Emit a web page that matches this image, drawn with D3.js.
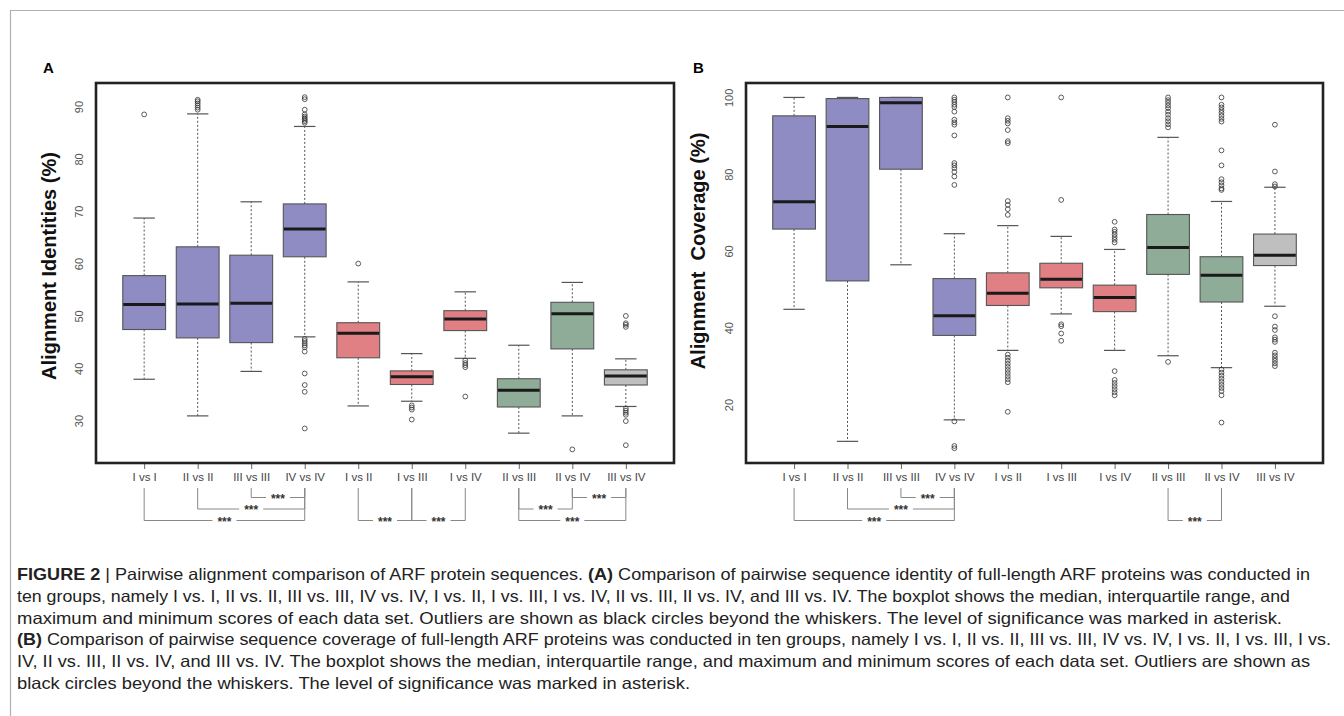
<!DOCTYPE html>
<html>
<head>
<meta charset="utf-8">
<script src="https://cdn.jsdelivr.net/npm/d3@7"></script>
<style>
  body { margin: 0; background: #fff; }
  svg { display: block; }
</style>
</head>
<body>
<div id="chart"></div>
<script>
const categories = ['I vs I', 'II vs II', 'III vs III', 'IV vs IV', 'I vs II', 'I vs III', 'I vs IV', 'II vs III', 'II vs IV', 'III vs IV'];
const boxColors = ['#8f8bc3', '#8f8bc3', '#8f8bc3', '#8f8bc3', '#e08084', '#e08084', '#e08084', '#8fac98', '#8fac98', '#bfbfbf'];

// panel A: alignment identities (%)
const identTicks = [30, 40, 50, 60, 70, 80, 90];
const identLow = [37.9, 30.9, 39.4, 46.0, 32.8, 33.7, 41.9, 27.6, 30.9, 32.7];
const identQ1 = [47.4, 45.8, 44.9, 61.3, 42.0, 36.9, 47.2, 32.6, 43.7, 36.8];
const identMedian = [52.2, 52.3, 52.4, 66.6, 46.7, 38.4, 49.4, 35.8, 50.4, 38.5];
const identQ3 = [57.7, 63.2, 61.6, 71.4, 48.7, 39.5, 51.0, 38.0, 52.6, 39.7];
const identHigh = [68.7, 88.6, 71.8, 86.2, 56.5, 42.8, 54.6, 44.4, 56.4, 41.8];
const identOutliers = [
  [88.5],
  [89.4, 89.8, 90.2, 90.6, 91.0, 91.3],
  [],
  [86.9, 87.2, 87.5, 87.8, 88.1, 88.5, 89.4, 91.4, 91.8, 45.6, 45.2, 44.8, 44.4, 44.0, 43.2, 39.0, 36.8, 35.5, 28.5],
  [60.0],
  [32.9, 32.5, 32.1, 30.2],
  [41.5, 41.0, 40.6, 40.2, 34.6],
  [],
  [24.5],
  [50.0, 48.6, 48.3, 47.9, 32.3, 31.9, 31.5, 31.1, 29.9, 25.3]
];
// [from, to, tier]
const identBrackets = [[2, 3, 0], [1, 3, 1], [0, 3, 2], [4, 5, 2], [5, 6, 2], [7, 8, 1], [8, 9, 0], [7, 9, 2]];

// panel B: alignment coverage (%)
const coverTicks = [20, 40, 60, 80, 100];
const coverLow = [44.8, 10.4, 56.4, 16.0, 34.1, 43.6, 34.1, 32.7, 29.6, 45.6];
const coverQ1 = [65.7, 52.2, 81.3, 38.0, 45.8, 50.4, 44.2, 53.9, 46.7, 56.2];
const coverMedian = [72.8, 92.4, 98.6, 43.1, 49.0, 52.6, 47.9, 60.9, 53.7, 58.9];
const coverQ3 = [95.2, 99.7, 100, 52.8, 54.3, 56.8, 51.1, 69.5, 58.5, 64.4];
const coverHigh = [100, 100, 100, 64.5, 66.6, 63.8, 60.4, 89.6, 72.9, 76.6];
const coverOutliers = [
  [],
  [],
  [],
  [100, 99.4, 98.8, 98.1, 97.5, 96.3, 94.2, 93.5, 92.9, 90.1, 82.9, 82.3, 81.6, 80.6, 79.4, 77.2, 15.6, 9.2, 8.6],
  [100, 94.6, 93.9, 93.2, 91.5, 88.6, 88.1, 73.0, 72.0, 70.9, 69.4, 33.0, 32.2, 31.4, 30.6, 29.8, 29.0, 28.2, 27.4, 26.6, 25.8, 18.1],
  [100, 73.3, 40.9, 40.4, 38.5, 36.6],
  [67.6, 65.6, 65.0, 64.3, 63.6, 62.9, 62.2, 28.7, 26.4, 25.6, 24.8, 24.0, 23.2, 22.4],
  [100, 99.3, 98.6, 97.9, 97.2, 96.3, 95.5, 94.6, 93.8, 93.0, 92.2, 31.1],
  [100, 98.1, 97.4, 96.7, 96.0, 95.2, 94.4, 93.7, 86.2, 82.3, 78.7, 77.9, 77.1, 76.3, 75.9, 29.1, 28.3, 27.5, 26.7, 25.9, 25.1, 24.3, 23.5, 22.4, 15.3],
  [92.9, 80.7, 77.4, 76.8, 43.0, 40.3, 39.4, 37.5, 36.9, 36.3, 33.5, 32.8, 32.1, 31.4, 30.7, 30.0]
];
const coverBrackets = [[2, 3, 0], [1, 3, 1], [0, 3, 2], [7, 8, 2]];

const captionLines = [
  [['FIGURE 2', true], [' | Pairwise alignment comparison of ARF protein sequences. ', false], ['(A)', true], [' Comparison of pairwise sequence identity of full-length ARF proteins was conducted in', false]],
  [['ten groups, namely I vs. I, II vs. II, III vs. III, IV vs. IV, I vs. II, I vs. III, I vs. IV, II vs. III, II vs. IV, and III vs. IV. The boxplot shows the median, interquartile range, and', false]],
  [['maximum and minimum scores of each data set. Outliers are shown as black circles beyond the whiskers. The level of significance was marked in asterisk.', false]],
  [['(B)', true], [' Comparison of pairwise sequence coverage of full-length ARF proteins was conducted in ten groups, namely I vs. I, II vs. II, III vs. III, IV vs. IV, I vs. II, I vs. III, I vs.', false]],
  [['IV, II vs. III, II vs. IV, and III vs. IV. The boxplot shows the median, interquartile range, and maximum and minimum scores of each data set. Outliers are shown as', false]],
  [['black circles beyond the whiskers. The level of significance was marked in asterisk.', false]]
];
// right end of each caption line in the picture
const captionEnds = [1310, 1290, 1282, 1331, 1310, 690];

const W = 1344, H = 716;
const svg = d3.select('#chart').append('svg').attr('width', W).attr('height', H)
  .style('font-family', 'Liberation Sans, Arial, sans-serif');

// page frame
svg.append('path').attr('d', `M10.5,${H} V10.5 H${W}`).attr('fill', 'none').attr('stroke', '#b0b0b0').attr('stroke-width', 1.2);

function drawPanel(p) {
  const g = svg.append('g');
  const x = d3.scalePoint().domain(categories).range([p.left, p.right]).padding(0.9);
  const y = d3.scaleLinear().domain(p.domain).range([p.bottom, p.top]);
  const bw = x.step() * 0.8;

  // y axis labels (rotated, no tick marks)
  const ya = g.append('g').attr('transform', `translate(${p.left},0)`)
    .call(d3.axisLeft(y).tickValues(p.ticks).tickSize(0));
  ya.select('.domain').remove();
  ya.selectAll('text').attr('x', 0).attr('dy', null)
    .attr('transform', 'translate(-16,0) rotate(-90)')
    .attr('text-anchor', 'middle').attr('dominant-baseline', 'middle')
    .style('font-size', '11px').style('fill', '#555').style('font-family', 'Liberation Sans, Arial, sans-serif');

  // x axis
  const xa = g.append('g').attr('transform', `translate(0,${p.bottom})`)
    .call(d3.axisBottom(x).tickSize(6).tickPadding(4));
  xa.select('.domain').remove();
  xa.selectAll('line').attr('stroke', '#666');
  xa.selectAll('text').style('font-size', '11.5px').style('fill', '#444')
    .style('font-family', 'Liberation Sans, Arial, sans-serif');

  const idx = d3.range(categories.length);

  // whiskers
  g.selectAll('.wh-up').data(idx).enter().append('line')
    .attr('x1', i => x(categories[i])).attr('x2', i => x(categories[i]))
    .attr('y1', i => y(p.q3[i])).attr('y2', i => y(p.high[i]))
    .attr('stroke', '#555').attr('stroke-dasharray', '2,2');
  g.selectAll('.wh-dn').data(idx).enter().append('line')
    .attr('x1', i => x(categories[i])).attr('x2', i => x(categories[i]))
    .attr('y1', i => y(p.q1[i])).attr('y2', i => y(p.low[i]))
    .attr('stroke', '#555').attr('stroke-dasharray', '2,2');
  [p.high, p.low].forEach(vals => {
    g.selectAll(null).data(idx).enter().append('line')
      .attr('x1', i => x(categories[i]) - bw / 4).attr('x2', i => x(categories[i]) + bw / 4)
      .attr('y1', i => y(vals[i])).attr('y2', i => y(vals[i]))
      .attr('stroke', '#555').attr('stroke-width', 1.2);
  });

  // boxes
  g.selectAll('.box').data(idx).enter().append('rect')
    .attr('x', i => x(categories[i]) - bw / 2).attr('width', bw)
    .attr('y', i => y(p.q3[i])).attr('height', i => y(p.q1[i]) - y(p.q3[i]))
    .attr('fill', i => boxColors[i]).attr('stroke', '#555').attr('stroke-width', 1.1);
  g.selectAll('.med').data(idx).enter().append('line')
    .attr('x1', i => x(categories[i]) - bw / 2 + 0.5).attr('x2', i => x(categories[i]) + bw / 2 - 0.5)
    .attr('y1', i => y(p.median[i])).attr('y2', i => y(p.median[i]))
    .attr('stroke', '#1a1a1a').attr('stroke-width', 3);

  // outliers
  const pts = [];
  p.outliers.forEach((arr, i) => arr.forEach(v => pts.push([i, v])));
  g.selectAll('.out').data(pts).enter().append('circle')
    .attr('cx', d => x(categories[d[0]])).attr('cy', d => y(d[1])).attr('r', 2.4)
    .attr('fill', 'none').attr('stroke', '#333').attr('stroke-width', 0.8);

  // frame
  g.append('rect').attr('x', p.left).attr('y', p.top)
    .attr('width', p.right - p.left).attr('height', p.bottom - p.top)
    .attr('fill', 'none').attr('stroke', '#222').attr('stroke-width', 2.6);

  // significance brackets
  const bTop = p.bottom + 25;
  const tierY = t => p.bottom + 34.5 + t * 11.5;
  p.brackets.forEach(([a, b, t]) => {
    const xa1 = x(categories[a]), xb1 = x(categories[b]), yy = tierY(t);
    const cx = (xa1 + xb1) / 2;
    g.append('path').attr('d', `M${xa1},${bTop} V${yy} H${xb1} V${bTop}`)
      .attr('fill', 'none').attr('stroke', '#888').attr('stroke-width', 1);
    g.append('rect').attr('x', cx - 12).attr('y', yy - 4).attr('width', 24).attr('height', 8).attr('fill', '#fff');
    g.append('text').attr('x', cx).attr('y', yy + 5).attr('text-anchor', 'middle')
      .style('font-size', '12px').style('fill', '#333').style('font-weight', 'bold').text('***');
  });

  // titles
  svg.append('text').attr('transform', `translate(${p.titleX},${p.titleY}) rotate(-90)`)
    .attr('text-anchor', 'middle').attr('dominant-baseline', 'middle')
    .style('font-size', '20px').style('font-weight', 'bold').style('white-space', 'pre').style('fill', '#111')
    .text(p.title);
  svg.append('text').attr('x', p.labelX).attr('y', 73)
    .style('font-size', '15px').style('font-weight', 'bold').text(p.label);
}

drawPanel({
  left: 96, right: 674, top: 83, bottom: 463, domain: [21.9, 94.5], ticks: identTicks,
  low: identLow, q1: identQ1, median: identMedian, q3: identQ3, high: identHigh, outliers: identOutliers,
  brackets: identBrackets, title: 'Alignment Identities (%)', titleX: 51, titleY: 266, label: 'A', labelX: 43
});
drawPanel({
  left: 746, right: 1323, top: 83, bottom: 463, domain: [4.76, 103.76], ticks: coverTicks,
  low: coverLow, q1: coverQ1, median: coverMedian, q3: coverQ3, high: coverHigh, outliers: coverOutliers,
  brackets: coverBrackets, title: 'Alignment  Coverage (%)', titleX: 700, titleY: 251, label: 'B', labelX: 693
});

// caption, each line fitted to its width in the picture
const capX = 17;
captionLines.forEach((parts, li) => {
  const t = svg.append('text').attr('x', capX).attr('y', 580 + li * 21.8)
    .attr('textLength', captionEnds[li] - capX).attr('lengthAdjust', 'spacingAndGlyphs')
    .style('font-family', 'Liberation Sans, Arial, sans-serif')
    .style('font-size', '16.5px').style('fill', '#222').style('white-space', 'pre');
  parts.forEach(([s, bold]) => {
    t.append('tspan').style('font-weight', bold ? 'bold' : 'normal').text(s);
  });
});
</script>
</body>
</html>
